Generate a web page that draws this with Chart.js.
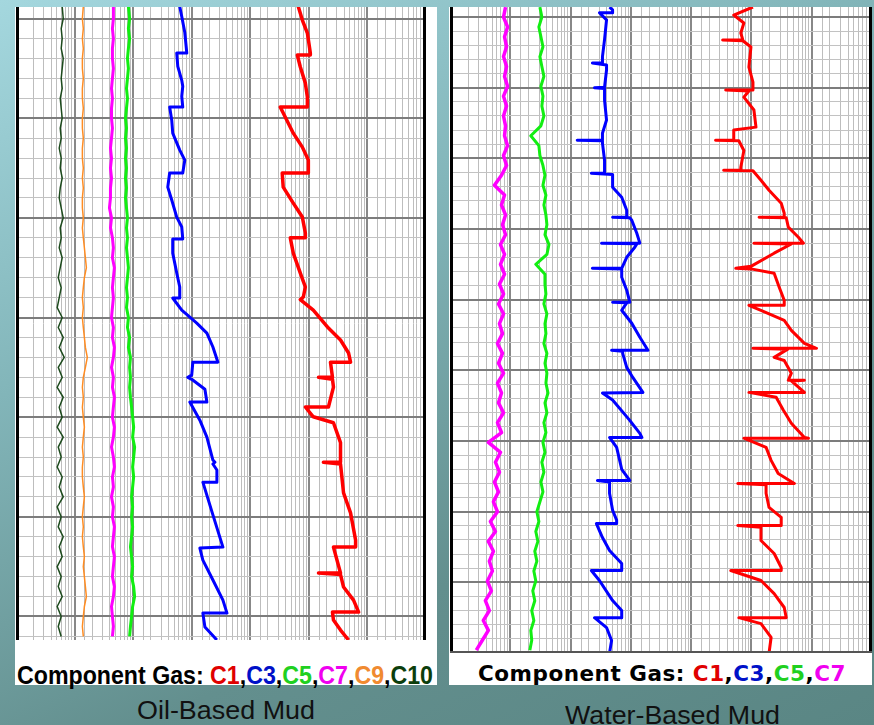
<!DOCTYPE html>
<html>
<head>
<meta charset="utf-8">
<script src="https://cdn.jsdelivr.net/npm/chart.js@4.4.1/dist/chart.umd.min.js"></script>
<style>
  html, body { margin: 0; padding: 0; }
  body {
    width: 874px; height: 725px; overflow: hidden; position: relative;
    background: linear-gradient(155deg, #a4d7de 0%, #82b5b9 35%, #638f8e 70%, #5a8684 100%);
    font-family: "Liberation Sans", Arial, sans-serif;
  }
  .panel { position: absolute; background: #fff; }
  #oilPanel { left: 15px; top: 7px; width: 422px; height: 678px; }
  #waterPanel { left: 449px; top: 7px; width: 423px; height: 678px; }
  canvas { position: absolute; }
  #oilChart { left: 16px; top: 7px; }
  #waterChart { left: 450px; top: 7px; }
  .legend { position: absolute; white-space: nowrap; transform-origin: left top; line-height: 1; }
  #oilLegend { left: 17px; top: 661px; font: bold 25px "Liberation Sans Narrow", "Liberation Sans", Arial, sans-serif; }
  #waterLegend { left: 478px; top: 662px; font: bold 21px "DejaVu Sans", Verdana, sans-serif; letter-spacing: 0.5px; }
  .caption { position: absolute; white-space: nowrap; line-height: 1; font-size: 26px; color: #111; transform-origin: left top; }
  #oilCaption { left: 137px; top: 697px; }
  #waterCaption { left: 565px; top: 702px; }
  .k { color: #000; } .r { color: #e00000; } .b { color: #0010c8; } .g { color: #20d020; }
  .m { color: #f000f0; } .o { color: #f08a30; } .dg { color: #0c3e0c; }
</style>
</head>
<body>
<div class="panel" id="oilPanel"></div>
<div class="panel" id="waterPanel"></div>
<canvas id="oilChart" width="410" height="633"></canvas>
<canvas id="waterChart" width="422" height="646"></canvas>
<div class="legend" id="oilLegend"><span class="k">Component Gas: </span><span class="r">C1</span><span class="k">,</span><span class="b">C3</span><span class="k">,</span><span class="g">C5</span><span class="k">,</span><span class="m">C7</span><span class="k">,</span><span class="o">C9</span><span class="k">,</span><span class="dg">C10</span></div>
<div class="legend" id="waterLegend"><span class="k">Component Gas: </span><span class="r">C1</span><span class="k">,</span><span class="b">C3</span><span class="k">,</span><span class="g">C5</span><span class="k">,</span><span class="m">C7</span></div>
<div class="caption" id="oilCaption">Oil-Based Mud</div>
<div class="caption" id="waterCaption">Water-Based Mud</div>
<script>
// ---- Oil-based mud: thin curves sampled on a common depth list
const oilDepth = [-6,0,5,10,15,20,25,30,35,40,45,50,55,60,65,70,75,80,85,90,95,100,105,110,115,120,125,130,135,140,145,150,155,160,165,170,175,180,185,190,195,200,205,210,215,220,225,230,235,240,245,250,255,260,265,270,275,280,285,290,295,300,305,310];
const oilC10 = [6.15,6.40,5.91,6.15,5.91,6.40,6.15,5.91,6.15,5.69,5.91,6.15,5.69,5.91,5.47,5.91,5.69,6.15,5.69,5.47,5.91,6.40,5.69,5.91,5.47,6.15,5.69,5.26,5.91,5.47,5.05,6.15,5.26,6.40,5.47,6.66,5.26,6.15,5.05,6.40,5.47,6.15,5.05,6.40,5.26,5.91,5.05,6.15,5.47,6.40,5.05,5.91,5.26,6.40,5.47,6.15,5.05,5.91,5.26,6.15,5.05,5.91,5.26,5.91];
const oilC9 = [14.1,13.6,14.1,13.6,14.1,13.6,13.6,14.1,13.6,13.6,14.1,13.6,13.6,14.1,13.6,13.6,14.1,13.6,14.1,13.6,13.6,14.1,13.6,14.1,14.7,15.3,15.9,14.7,14.1,13.6,14.1,13.6,14.1,14.7,15.3,16.5,15.3,14.1,13.6,14.1,13.6,14.1,14.7,14.1,13.6,14.1,13.6,13.6,14.1,14.7,14.1,13.6,14.1,13.6,14.1,14.7,14.1,14.7,15.3,15.9,14.7,14.1,13.6,14.1];
const oilC7 = [46.0,46.0,44.3,46.0,44.3,44.3,46.0,44.3,42.7,44.3,42.7,42.7,44.3,42.7,41.0,42.7,41.0,42.7,41.0,41.0,39.4,42.7,41.0,44.3,46.0,44.3,47.9,46.0,44.3,46.0,44.3,42.7,46.0,44.3,47.9,46.0,42.7,46.0,44.3,47.9,46.0,44.3,47.9,46.0,42.7,46.0,47.9,44.3,46.0,42.7,46.0,44.3,47.9,46.0,44.3,47.9,46.0,44.3,47.9,46.0,42.7,44.3,46.0,44.3];
const oilC5 = [83,87,83,87,83,80,83,80,77,80,77,74,77,74,77,74,77,74,77,74,77,80,77,80,77,80,83,80,77,80,77,83,80,87,83,90,87,90,87,90,94,98,102,98,106,102,98,102,98,94,98,94,98,94,90,94,98,94,102,106,98,94,90,87];

// ---- Oil-based mud: C3 and C1 traced with their own depth lists (steps repeat a depth)
const oilC3Depth = [-6,-1,7,17.3,17.3,24,31,34,39,44.4,44.4,51,57.5,66,71,77.5,77.5,84.6,91,99.6,104.6,110.6,110.6,117.7,127.7,134.7,140.2,140.2,146.3,152.8,157.8,164.8,172.4,172.4,178.9,180,181,186,192.4,192.4,201.5,210,221.5,222.6,223.5,226.5,232.6,232.6,249,265.2,265.7,271.7,281.7,291.8,298.3,298.3,305.3,311.8];
const oilC3 = [625,676,762,824,555,578,676,703,676,703,420,456,474,625,762,703,420,390,456,555,676,703,474,474,555,625,625,474,676,1220,1815,2300,2800,1045,1000,857,1000,1680,1815,928,1377,1815,2300,2490,2300,2690,2690,1550,2300,3410,1377,1550,2300,3410,4000,1550,1680,2690];
const oilC1Depth = [-6,0.75,7.3,17.3,18.3,18.3,24.3,32.4,39.4,44.4,44.4,47.4,57.5,64.5,71,77.5,77.5,84.6,92.6,99.6,107.6,110,110,117.7,127.7,134.7,139.7,141,146.3,155.3,161.3,167.8,172.4,172.4,180,180,181,184.9,194.9,194.9,199.8,202.8,212.8,222.6,222.6,223.5,238,248,261.7,265.2,265.2,278.2,278.2,279,285.2,291.8,297.8,297.8,301.8,306.8,311.8];
const oilC1 = [66000,77400,94300,106000,106000,63500,71500,87100,94300,94300,32400,36500,54200,77400,98000,98000,35100,36500,54200,77400,87100,87100,48200,54200,71500,87100,80500,71500,119000,216000,347000,476000,515000,234000,253000,146000,253000,263000,216000,87100,119000,263000,347000,347000,177000,347000,391000,515000,628000,628000,263000,347000,146000,347000,391000,579000,707000,253000,263000,347000,476000];

// ---- Water-based mud: thin curves on a common depth list
const waterDepth = [-7,0,7,14,21,28,35,42,49,56,63,70,77,84,91,98,105,112,119,126,133,140,147,154,161,168,175,182,189,196,203,210,217,224,231,238,245,252,259,266,273,280,287,294,301,308,315,322,329,336,343,350,357,364,371,378,385,392,399,406,413,420,427,434,441,448];
const waterC5 = [31.0,33.4,29.8,32.2,34.8,31.0,33.4,36.1,32.2,34.8,33.4,36.1,32.2,21.9,29.8,31.0,34.8,37.6,34.8,39.0,36.1,39.0,40.5,37.6,43.8,40.5,26.5,37.6,37.6,39.0,36.1,40.5,37.6,39.0,36.1,40.5,37.6,40.5,39.0,42.2,37.6,40.5,36.1,39.0,34.8,37.6,33.4,36.1,32.2,34.8,31.0,27.6,29.8,26.5,28.7,25.5,27.6,24.6,26.5,23.6,25.5,22.7,24.6,21.9,22.7,21.1];
const waterC7 = [8.34,7.72,9.01,8.03,8.67,7.72,8.67,8.03,9.01,7.72,8.67,7.72,8.34,8.03,9.01,7.72,8.67,7.15,5.46,8.03,7.15,8.34,7.43,8.34,6.88,8.03,6.88,8.03,6.62,7.72,6.37,7.72,6.62,7.43,6.13,7.43,6.37,7.72,6.13,7.15,6.37,7.72,6.13,7.15,4.33,6.88,5.67,6.62,5.46,6.37,5.25,6.13,4.68,5.67,4.33,5.25,4.50,5.05,4.17,4.86,3.86,4.50,3.57,4.33,3.44,2.73];

// ---- Water-based mud: C3 and C1
const waterC3Depth = [-7,-5,-3,-3,2,16,28,32.6,32.6,34,37.5,49.6,50,50.5,58.8,72.9,82.2,87,87.1,87.5,89.2,101.3,110.5,110.5,111.5,120.4,127.5,136.7,141.6,141.6,142,143.8,153,160,160,160.5,162.9,170,177.8,177.8,178.2,184.1,193.3,201.8,201.8,202.2,207.5,216.7,226.6,235.8,235.8,236.5,238,247.9,255,265.6,266,271,285.4,294.6,297.5,297.5,304.5,313.7,320,327.9,327.9,329,337,349,356,358.4,358.4,368.3,377.5,386.7,391.6,391.6,398.7,412.9,420,425,425,432,441.2,450];
const waterC3 = [443,498,498,301,395,366,338,338,230,395,395,366,249,366,366,395,338,338,129,338,338,366,366,221,498,498,705,854,854,498,959,1036,1255,1410,326,1255,1162,854,705,230,705,705,854,959,498,854,705,1036,1410,1920,479,732,732,854,1076,1583,338,498,959,1410,1523,443,581,652,705,959,279,443,443,498,581,581,268,338,443,705,705,221,301,498,705,705,249,395,479,443];
const waterC1Depth = [-7.1,-1.4,4.2,11.3,16.3,16.3,16.8,21.2,35.4,46,51.7,51.7,52.3,56.7,65.8,77.9,80,87.1,87.1,87.5,94.4,106.3,108.4,108.4,108.8,115.5,122.6,131.7,138.8,141.6,141.6,142,148.7,155.8,160,160,160.6,167.1,176.4,177.8,178.2,181.3,191.2,200.4,204,204,207.5,214.6,221.7,230.9,234.4,234.4,235,240.8,243,252,257,257,257.5,265.6,265.6,269,278,287.5,297.5,298,298,304.5,313.7,323,330,330,331,337,347,354,359.8,359.8,361,370.4,379.6,389.5,391.6,391.6,398.7,408,417.8,425,425,429.2,439,450];
const waterC1 = [106000,50900,74900,66700,72100,33300,72100,98100,90800,106000,106000,37400,90800,74900,110000,119000,50900,50900,25400,61800,74900,66700,66700,34600,106000,144000,196000,312000,350000,350000,134000,378000,409000,601000,729000,110000,459000,238000,98100,55000,98100,238000,289000,350000,350000,90800,144000,350000,459000,757000,1200000,106000,400000,238000,350000,459000,409000,757000,459000,757000,90800,257000,337000,459000,757000,883000,74900,175000,212000,278000,515000,59400,175000,175000,196000,312000,312000,59400,144000,144000,238000,312000,312000,45400,144000,238000,350000,378000,61800,144000,212000,196000];

const RED = '#ff0000', BLUE = '#0000ff', GREEN = '#12ee12', MAGENTA = '#ff00ff', ORANGE = '#ff8c22', DARKGREEN = '#1c4a1c';

function pts(depths, values) {
  return depths.map((d, i) => ({ x: values[i], y: d }));
}

function curve(label, depths, values, color, width) {
  return {
    label, data: pts(depths, values), showLine: true, borderColor: color,
    borderWidth: width, pointRadius: 0, borderJoinStyle: 'round', tension: 0
  };
}

// black side borders, optional bottom rule
const frame = {
  id: 'frame',
  afterDraw(chart, args, opts) {
    const { ctx, chartArea: a } = chart;
    ctx.save();
    ctx.strokeStyle = '#000';
    ctx.lineWidth = 3;
    ctx.beginPath();
    ctx.moveTo(a.left + 1.5, a.top); ctx.lineTo(a.left + 1.5, a.bottom);
    ctx.moveTo(a.right - 1.5, a.top); ctx.lineTo(a.right - 1.5, a.bottom);
    ctx.stroke();
    if (opts.bottom) {
      ctx.strokeStyle = '#555';
      ctx.lineWidth = 2;
      ctx.beginPath();
      ctx.moveTo(a.left, a.bottom - 1); ctx.lineTo(a.right, a.bottom - 1);
      ctx.stroke();
    }
    ctx.restore();
  }
};

function options(yMin, yMax, bottomRule) {
  return {
    responsive: false,
    animation: false,
    layout: { padding: 0 },
    plugins: { legend: { display: false }, tooltip: { enabled: false }, frame: { bottom: bottomRule } },
    scales: {
      x: {
        type: 'logarithmic', min: 1, max: 1e7,
        ticks: { display: false },
        border: { display: false },
        grid: {
          drawTicks: false,
          color: c => (c.tick && c.tick.major) ? '#888888' : '#bdbdbd',
          lineWidth: c => (c.tick && c.tick.major) ? 2 : 1
        }
      },
      y: {
        type: 'linear', reverse: true, min: yMin, max: yMax,
        ticks: { display: false, stepSize: 10, includeBounds: false },
        border: { display: false },
        grid: {
          drawTicks: false,
          color: c => (c.tick && c.tick.value % 50 === 0) ? '#7c7c7c' : '#c2c2c2',
          lineWidth: c => (c.tick && c.tick.value % 50 === 0) ? 2 : 1
        }
      }
    }
  };
}

new Chart(document.getElementById('oilChart'), {
  type: 'scatter',
  data: {
    datasets: [
      curve('C1', oilC1Depth, oilC1, RED, 3.5),
      curve('C3', oilC3Depth, oilC3, BLUE, 3),
      curve('C5', oilDepth, oilC5, GREEN, 3),
      curve('C7', oilDepth, oilC7, MAGENTA, 3),
      curve('C9', oilDepth, oilC9, ORANGE, 1.5),
      curve('C10', oilDepth, oilC10, DARKGREEN, 1.5)
    ]
  },
  options: options(-5.8, 311.8, false),
  plugins: [frame]
});

new Chart(document.getElementById('waterChart'), {
  type: 'scatter',
  data: {
    datasets: [
      curve('C1', waterC1Depth, waterC1, RED, 3),
      curve('C3', waterC3Depth, waterC3, BLUE, 3),
      curve('C5', waterDepth, waterC5, GREEN, 3),
      curve('C7', waterDepth, waterC7, MAGENTA, 3.5)
    ]
  },
  options: options(-7.1, 450, true),
  plugins: [frame]
});

// stretch the text lines to the widths they have in the picture
function fit(id, width) {
  const el = document.getElementById(id);
  el.style.transform = 'none';
  const w = el.getBoundingClientRect().width;
  el.style.transform = 'scaleX(' + (width / w) + ')';
}
function fitAll() {
  fit('oilLegend', 416);
  fit('waterLegend', 368);
  fit('oilCaption', 178);
  fit('waterCaption', 215);
}
fitAll();
if (document.fonts) document.fonts.ready.then(fitAll);
</script>
</body>
</html>
